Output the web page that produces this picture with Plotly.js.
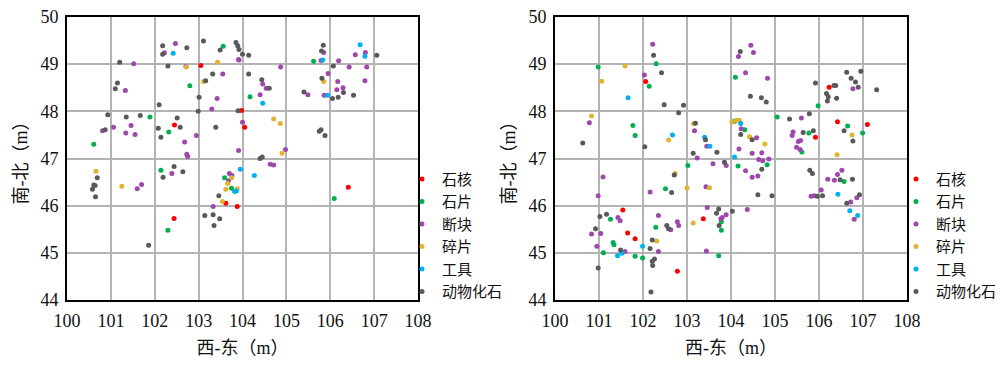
<!DOCTYPE html>
<html>
<head>
<meta charset="utf-8">
<script src="https://cdn.plot.ly/plotly-3.0.1.min.js"></script>
<style>html,body{margin:0;padding:0;background:#fff;}#chart{width:1000px;height:366px;}</style>
</head>
<body>
<div id="chart"></div>
<script>
// ---------- categories ----------
var categories = ['石核', '石片', '断块', '碎片', '工具', '动物化石'];
var xTicks = [100, 101, 102, 103, 104, 105, 106, 107, 108];
var yTicks = [44, 45, 46, 47, 48, 49, 50];

// ---------- left panel ----------
var leftCoreX = [103.05, 102.45, 103.98, 104.05, 102.44, 103.62, 103.88, 106.41];
var leftCoreY = [48.97, 47.71, 48.02, 47.66, 45.73, 46.05, 45.98, 46.39];

var leftFlakeX = [103.56, 102.80, 101.89, 102.32, 100.61, 104.17, 105.62, 102.14, 102.30, 103.59, 103.75, 106.09];
var leftFlakeY = [49.38, 48.54, 47.88, 47.56, 47.30, 48.31, 49.06, 46.75, 45.48, 46.59, 46.37, 46.15];

var leftChunkX = [102.47, 102.22, 101.52, 103.55, 103.91, 101.33, 103.42, 103.30, 101.06, 100.81, 101.46, 101.34, 101.55, 102.95, 102.68, 102.73, 102.75, 103.91, 103.92, 104.87, 104.46, 104.54, 104.40, 104.00, 104.98, 105.85, 106.80, 106.57, 105.79, 106.19, 106.43, 106.83, 105.95, 106.17, 106.79, 106.29, 106.15, 105.49, 105.86, 102.39, 101.60, 101.70, 103.70, 103.68, 103.33, 104.63, 104.71, 103.76, 102.71];
var leftChunkY = [49.44, 49.24, 49.01, 48.79, 49.10, 48.44, 48.27, 48.05, 47.66, 47.59, 47.70, 47.54, 47.51, 47.49, 47.35, 47.09, 47.04, 47.17, 49.09, 48.94, 48.58, 48.49, 48.35, 47.77, 47.19, 49.25, 49.25, 49.20, 49.08, 49.07, 48.94, 48.94, 48.80, 48.63, 48.65, 48.50, 48.46, 48.35, 48.34, 46.68, 46.36, 46.45, 46.68, 46.53, 45.98, 46.88, 46.86, 46.64, 48.95];

var leftDebrisX = [102.72, 103.43, 103.11, 104.71, 104.86, 105.85, 104.90, 100.66, 101.25, 103.75, 103.66, 103.62, 103.54, 103.88];
var leftDebrisY = [48.94, 49.04, 48.63, 47.84, 47.74, 48.63, 47.11, 46.73, 46.41, 46.59, 46.47, 46.35, 46.09, 46.36];

var leftToolX = [102.42, 104.46, 106.68, 106.79, 105.83, 105.94, 103.95, 104.27, 103.86, 103.82];
var leftToolY = [49.23, 48.17, 49.41, 49.17, 49.09, 48.34, 46.77, 46.64, 46.31, 46.30];

var leftFossilX = [102.18, 102.18, 102.73, 103.11, 103.49, 103.85, 103.89, 103.92, 104.00, 104.14, 101.20, 102.30, 103.32, 103.16, 101.15, 101.10, 103.01, 102.10, 102.99, 103.90, 100.93, 101.35, 101.67, 102.51, 102.58, 102.08, 100.87, 102.14, 103.39, 104.14, 104.44, 104.61, 105.75, 105.79, 105.88, 104.40, 104.45, 105.84, 105.80, 107.06, 106.07, 105.81, 106.30, 105.40, 106.05, 106.18, 106.53, 100.69, 100.61, 100.64, 100.58, 100.65, 102.44, 102.19, 102.64, 101.86, 103.46, 103.14, 103.33, 103.48, 103.35];
var leftFossilY = [49.39, 49.21, 49.35, 49.49, 49.30, 49.46, 49.39, 49.31, 49.21, 49.19, 49.04, 48.96, 48.79, 48.65, 48.60, 48.48, 48.30, 48.14, 48.00, 48.01, 47.93, 47.88, 47.91, 47.86, 47.66, 47.64, 47.61, 47.45, 47.66, 48.79, 48.67, 48.49, 47.58, 47.61, 47.49, 47.00, 47.03, 49.40, 49.28, 49.19, 48.96, 48.70, 48.40, 48.41, 48.27, 48.30, 48.34, 46.59, 46.44, 46.43, 46.35, 46.19, 46.83, 46.60, 46.72, 45.16, 46.21, 45.79, 45.81, 45.72, 45.58];

// ---------- right panel ----------
var rightCoreX = [102.06, 106.23, 105.92, 106.42, 107.10, 101.54, 101.65, 101.82, 102.78, 103.37];
var rightCoreY = [48.63, 48.51, 47.45, 47.78, 47.72, 45.91, 45.42, 45.30, 44.61, 45.72];

var rightFlakeX = [102.30, 102.14, 100.98, 101.77, 101.82, 104.10, 105.98, 105.05, 105.77, 105.61, 106.65, 106.99, 104.08, 104.31, 101.26, 101.32, 101.34, 101.10, 101.82, 101.99, 102.51, 103.02, 102.29, 103.78, 103.78, 103.72, 104.82, 104.16, 106.57];
var rightFlakeY = [49.01, 48.53, 48.94, 47.70, 47.49, 48.72, 48.12, 47.88, 47.54, 47.14, 47.69, 47.54, 47.79, 47.61, 45.71, 45.22, 45.17, 45.00, 44.93, 44.89, 46.36, 46.85, 45.54, 45.66, 45.48, 44.94, 46.87, 46.84, 46.51];

var rightChunkX = [102.22, 102.03, 100.78, 103.17, 103.45, 103.23, 104.45, 104.51, 104.17, 104.33, 104.83, 106.77, 105.60, 105.41, 105.39, 105.53, 105.58, 105.49, 105.57, 104.23, 104.58, 104.18, 104.48, 104.70, 104.63, 104.86, 104.72, 101.09, 100.98, 101.43, 101.48, 100.83, 101.04, 100.95, 101.59, 102.16, 102.35, 103.43, 102.35, 102.63, 102.78, 102.81, 103.46, 103.80, 103.44, 103.59, 103.89, 104.33, 104.48, 104.61, 103.89, 103.77, 104.37, 106.52, 106.42, 106.20, 106.35, 106.05, 105.82, 105.89, 106.86, 106.72, 106.80];
var rightChunkY = [49.42, 48.77, 47.76, 47.59, 47.26, 47.01, 49.40, 49.25, 49.16, 48.82, 48.70, 48.48, 47.86, 47.56, 47.49, 47.36, 47.38, 47.24, 47.19, 47.63, 47.44, 47.20, 47.11, 47.12, 46.98, 46.99, 46.95, 46.61, 46.21, 45.75, 45.68, 45.40, 45.41, 45.14, 45.03, 46.29, 45.03, 46.40, 45.79, 45.49, 45.66, 45.58, 45.96, 45.75, 45.04, 46.89, 46.85, 46.74, 46.60, 46.63, 45.81, 45.72, 45.92, 46.75, 46.66, 46.56, 46.54, 46.33, 46.20, 46.21, 46.17, 46.08, 45.71];

var rightDebrisX = [101.59, 101.06, 100.83, 102.58, 103.15, 104.02, 104.12, 104.19, 104.42, 104.77, 106.75, 106.41, 102.31, 102.73, 103.00, 103.51, 103.14];
var rightDebrisY = [48.96, 48.64, 47.90, 47.39, 47.74, 47.77, 47.81, 47.81, 47.46, 47.31, 47.50, 47.08, 45.25, 46.68, 46.38, 46.38, 45.63];

var rightToolX = [101.66, 102.67, 103.40, 103.52, 104.22, 104.08, 101.42, 101.52, 101.99, 106.43, 106.70, 106.88];
var rightToolY = [48.29, 47.50, 47.45, 47.26, 47.74, 47.03, 44.94, 44.99, 45.14, 46.24, 45.89, 45.79];

var rightFossilX = [102.24, 102.42, 102.48, 102.92, 102.81, 100.63, 102.04, 103.19, 103.42, 103.68, 103.14, 104.21, 104.44, 104.69, 104.80, 105.92, 106.34, 106.38, 106.17, 106.21, 106.19, 106.40, 106.63, 106.95, 106.73, 106.83, 106.89, 107.31, 105.33, 105.78, 105.64, 105.87, 106.57, 106.77, 104.22, 104.48, 101.02, 101.17, 100.92, 101.49, 100.98, 102.16, 102.21, 102.26, 102.21, 102.22, 102.18, 102.65, 102.71, 102.54, 102.58, 103.67, 103.72, 103.73, 103.85, 104.70, 104.61, 104.93, 104.03, 105.79, 105.85, 106.48, 106.76, 105.96, 106.08, 106.92, 106.63];
var rightFossilY = [49.19, 48.82, 48.14, 48.13, 47.97, 47.33, 47.25, 47.75, 47.40, 47.13, 47.11, 49.27, 48.32, 48.29, 48.20, 48.60, 48.55, 48.55, 48.38, 48.31, 48.22, 48.28, 48.83, 48.85, 48.70, 48.62, 48.51, 48.46, 47.84, 47.95, 47.55, 47.59, 47.59, 47.37, 47.51, 47.40, 45.77, 45.82, 45.51, 45.06, 44.68, 45.09, 45.27, 44.87, 44.82, 44.73, 44.17, 46.28, 46.65, 45.58, 45.51, 45.84, 45.93, 45.58, 46.92, 46.77, 46.23, 46.21, 45.88, 46.75, 46.68, 46.55, 46.56, 46.20, 46.21, 46.23, 46.05];

// ---------- styling ----------
var colors = ['#FF0000', '#00B050', '#9E48AC', '#E0B431', '#00B0F0', '#595959'];
var leftSets = [[leftCoreX, leftCoreY], [leftFlakeX, leftFlakeY], [leftChunkX, leftChunkY], [leftDebrisX, leftDebrisY], [leftToolX, leftToolY], [leftFossilX, leftFossilY]];
var rightSets = [[rightCoreX, rightCoreY], [rightFlakeX, rightFlakeY], [rightChunkX, rightChunkY], [rightDebrisX, rightDebrisY], [rightToolX, rightToolY], [rightFossilX, rightFossilY]];

var traces = [];
leftSets.forEach(function (s, i) {
  traces.push({type: 'scatter', mode: 'markers', x: s[0], y: s[1], name: categories[i],
    xaxis: 'x', yaxis: 'y', legend: 'legend',
    marker: {color: colors[i], size: 5}});
});
rightSets.forEach(function (s, i) {
  traces.push({type: 'scatter', mode: 'markers', x: s[0], y: s[1], name: categories[i],
    xaxis: 'x2', yaxis: 'y2', legend: 'legend2',
    marker: {color: colors[i], size: 5}});
});

var tickFont = {family: 'Liberation Serif, Times New Roman, serif', size: 18, color: '#111'};
var titleFont = {family: 'Liberation Serif, Noto Sans CJK SC, serif', size: 18, color: '#111'};
function xAx(domain, anchor) {
  return {domain: domain, anchor: anchor, range: [100, 108], tickvals: xTicks, ticktext: xTicks.map(String),
    showgrid: true, gridcolor: '#B4B4B4', gridwidth: 2, zeroline: false,
    showline: true, linecolor: '#000', linewidth: 2, mirror: true, ticks: '',
    tickfont: tickFont, ticklabelstandoff: 3, automargin: false,
    title: {text: '西-东（m）', font: titleFont, standoff: 12}};
}
function yAx(anchor) {
  return {domain: [0, 1], anchor: anchor, range: [44, 50], tickvals: yTicks, ticktext: yTicks.map(String),
    showgrid: true, gridcolor: '#B4B4B4', gridwidth: 2, zeroline: false,
    showline: true, linecolor: '#000', linewidth: 2, mirror: true, ticks: '',
    tickfont: tickFont, ticklabelstandoff: 3, automargin: false,
    title: {text: '南-北（m）', font: titleFont, standoff: 8}};
}
var legendFont = {family: 'Noto Sans CJK SC, sans-serif', size: 15, color: '#111'};

var layout = {
  width: 1000, height: 366,
  margin: {l: 67, r: 93, t: 17, b: 66, autoexpand: false},
  paper_bgcolor: '#fff', plot_bgcolor: '#fff',
  showlegend: true,
  xaxis: xAx([0, 0.4179], 'y'),
  yaxis: yAx('x'),
  xaxis2: xAx([0.581, 1], 'y2'),
  yaxis2: yAx('x2'),
  legend: {x: 0.3988, y: 0.485, xanchor: 'left', yanchor: 'top', font: legendFont,
    bgcolor: 'rgba(0,0,0,0)', tracegroupgap: 0, itemwidth: 30},
  legend2: {x: 0.9869, y: 0.485, xanchor: 'left', yanchor: 'top', font: legendFont,
    bgcolor: 'rgba(0,0,0,0)', tracegroupgap: 0, itemwidth: 30}
};

Plotly.newPlot('chart', traces, layout, {staticPlot: true, displayModeBar: false});
</script>
</body>
</html>
